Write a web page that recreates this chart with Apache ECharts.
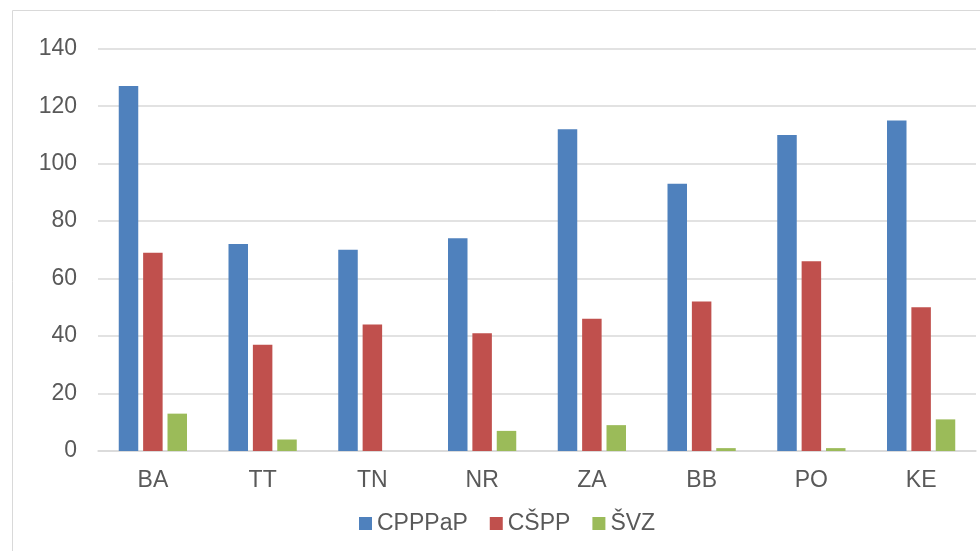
<!DOCTYPE html>
<html>
<head>
<meta charset="utf-8">
<script src="https://cdn.jsdelivr.net/npm/echarts@6/dist/echarts.min.js"></script>
<style>
  html, body { margin: 0; padding: 0; background: #fff; }
  #chart { width: 980px; height: 551px; }
</style>
</head>
<body>
<div id="chart"></div>
<script>
// regions
var categories = ['BA', 'TT', 'TN', 'NR', 'ZA', 'BB', 'PO', 'KE']
var seriesNames = ['CPPPaP', 'CŠPP', 'ŠVZ']
var cppppap = [127, 72, 70, 74, 112, 93, 110, 115]
var cspp = [69, 37, 44, 41, 46, 52, 66, 50]
var svz = [13, 4, 0, 7, 9, 1, 1, 11]
var yTicks = [0, 20, 40, 60, 80, 100, 120, 140]

var colors = ['#4F81BD', '#C0504D', '#9BBB59']
var font = '"Liberation Sans", Arial, sans-serif'

function bar(name, data) {
  return {
    name: name,
    type: 'bar',
    data: data,
    barWidth: 19.5,
    barGap: '25%',
    silent: true
  }
}

var chart = echarts.init(document.getElementById('chart'))
chart.setOption({
  animation: false,
  color: colors,
  textStyle: { fontFamily: font },
  graphic: [
    {
      type: 'rect',
      shape: { x: 12.5, y: 10.5, width: 1200, height: 800 },
      style: { fill: 'none', stroke: '#D9D9D9', lineWidth: 1 },
      silent: true,
      z: -1
    }
  ],
  grid: {
    left: 98,
    right: 4,
    top: 48.7,
    bottom: 100,
    containLabel: false
  },
  legend: {
    left: 354,
    top: 507,
    itemWidth: 13,
    itemHeight: 13,
    itemGap: 22,
    icon: 'rect',
    selectedMode: false,
    data: seriesNames,
    textStyle: { fontSize: 23, color: '#595959', fontFamily: font }
  },
  xAxis: {
    type: 'category',
    data: categories,
    axisTick: { show: false },
    axisLine: { lineStyle: { color: '#D9D9D9', width: 1.5 } },
    axisLabel: { fontSize: 23, color: '#595959', margin: 18 }
  },
  yAxis: {
    type: 'value',
    min: yTicks[0],
    max: yTicks[yTicks.length - 1],
    interval: 20,
    axisLine: { show: false },
    axisTick: { show: false },
    axisLabel: { fontSize: 23, color: '#595959', margin: 21 },
    splitLine: { lineStyle: { color: '#D9D9D9', width: 1.5 } }
  },
  series: [
    bar(seriesNames[0], cppppap),
    bar(seriesNames[1], cspp),
    bar(seriesNames[2], svz)
  ]
})
</script>
</body>
</html>
